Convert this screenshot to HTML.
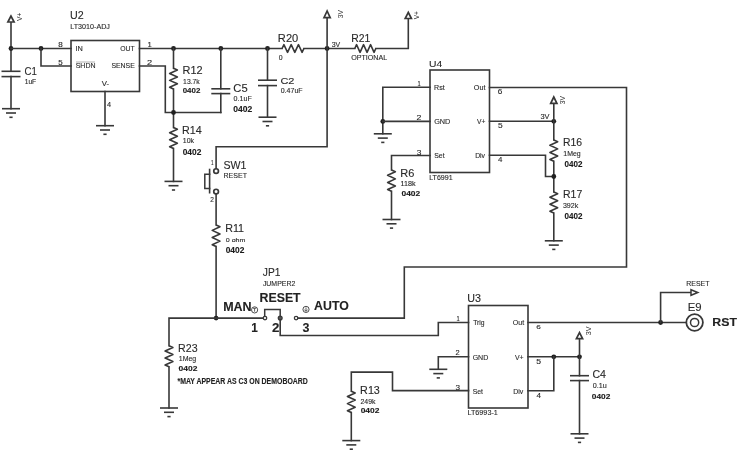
<!DOCTYPE html>
<html><head><meta charset="utf-8"><style>
html,body{margin:0;padding:0;background:#fff;}
svg{display:block;}
text{font-family:"Liberation Sans",sans-serif;}
</style></head><body>
<svg width="743" height="450" viewBox="0 0 743 450" style="will-change:transform">
<rect width="743" height="450" fill="#fff"/>
<polygon points="11.00,16.00 7.90,22.00 14.10,22.00" fill="#fff" stroke="#383838" stroke-width="1.7" stroke-linejoin="miter"/>
<text transform="translate(22.00 21.03) rotate(-90)" x="0" y="0" font-size="7.27" textLength="8.36" lengthAdjust="spacingAndGlyphs" fill="#2a2a2a">V+</text>
<polyline points="11.00,22.70 11.00,71.30" fill="none" stroke="#383838" stroke-width="1.60" stroke-linejoin="miter" stroke-linecap="square"/>
<line x1="1.50" y1="71.30" x2="20.50" y2="71.30" stroke="#383838" stroke-width="1.60" stroke-linecap="butt"/>
<line x1="1.50" y1="76.60" x2="20.50" y2="76.60" stroke="#383838" stroke-width="1.60" stroke-linecap="butt"/>
<polyline points="11.00,76.60 11.00,108.70" fill="none" stroke="#383838" stroke-width="1.60" stroke-linejoin="miter" stroke-linecap="square"/>
<line x1="2.00" y1="108.70" x2="20.00" y2="108.70" stroke="#383838" stroke-width="1.60" stroke-linecap="butt"/>
<line x1="6.00" y1="113.00" x2="16.00" y2="113.00" stroke="#383838" stroke-width="1.60" stroke-linecap="butt"/>
<line x1="9.40" y1="117.30" x2="12.60" y2="117.30" stroke="#383838" stroke-width="1.60" stroke-linecap="butt"/>
<circle cx="11.00" cy="48.50" r="2.40" fill="#202020"/>
<polyline points="11.00,48.50 71.00,48.50" fill="none" stroke="#383838" stroke-width="1.60" stroke-linejoin="miter" stroke-linecap="square"/>
<circle cx="41.00" cy="48.50" r="2.40" fill="#202020"/>
<polyline points="41.00,48.50 41.00,66.00 71.00,66.00" fill="none" stroke="#383838" stroke-width="1.60" stroke-linejoin="miter" stroke-linecap="square"/>
<text x="24.61" y="74.89" font-size="11.44" textLength="12.36" lengthAdjust="spacingAndGlyphs" fill="#2a2a2a" stroke="#2a2a2a" stroke-width="0.12">C1</text>
<text x="24.69" y="83.84" font-size="6.59" textLength="11.47" lengthAdjust="spacingAndGlyphs" fill="#2a2a2a" stroke="#2a2a2a" stroke-width="0.12">1uF</text>
<rect x="71.00" y="40.50" width="68.50" height="51.00" fill="none" stroke="#383838" stroke-width="1.60"/>
<text x="70.08" y="18.99" font-size="10.88" textLength="13.66" lengthAdjust="spacingAndGlyphs" fill="#2a2a2a" stroke="#2a2a2a" stroke-width="0.12">U2</text>
<text x="70.32" y="28.83" font-size="7.20" textLength="39.60" lengthAdjust="spacingAndGlyphs" fill="#2a2a2a" stroke="#2a2a2a" stroke-width="0.12">LT3010-ADJ</text>
<text x="58.35" y="46.94" font-size="6.36" textLength="4.50" lengthAdjust="spacingAndGlyphs" fill="#2a2a2a" stroke="#2a2a2a" stroke-width="0.12">8</text>
<text x="58.38" y="64.63" font-size="7.17" textLength="4.46" lengthAdjust="spacingAndGlyphs" fill="#2a2a2a" stroke="#2a2a2a" stroke-width="0.12">5</text>
<text x="75.42" y="50.90" font-size="7.12" textLength="7.38" lengthAdjust="spacingAndGlyphs" fill="#2a2a2a" stroke="#2a2a2a" stroke-width="0.12">IN</text>
<text x="120.18" y="51.13" font-size="7.63" textLength="14.48" lengthAdjust="spacingAndGlyphs" fill="#2a2a2a" stroke="#2a2a2a" stroke-width="0.12">OUT</text>
<line x1="76.00" y1="62.00" x2="95.00" y2="62.00" stroke="#d4d4d4" stroke-width="1.80" stroke-linecap="butt"/>
<text x="75.68" y="68.23" font-size="6.92" textLength="19.89" lengthAdjust="spacingAndGlyphs" fill="#2a2a2a" stroke="#2a2a2a" stroke-width="0.12">SHDN</text>
<text x="111.39" y="68.23" font-size="7.49" textLength="23.41" lengthAdjust="spacingAndGlyphs" fill="#2a2a2a" stroke="#2a2a2a" stroke-width="0.12">SENSE</text>
<text x="101.67" y="85.80" font-size="7.27" textLength="7.36" lengthAdjust="spacingAndGlyphs" fill="#2a2a2a" stroke="#2a2a2a" stroke-width="0.12">V-</text>
<text x="147.42" y="47.00" font-size="6.54" textLength="4.26" lengthAdjust="spacingAndGlyphs" fill="#2a2a2a" stroke="#2a2a2a" stroke-width="0.12">1</text>
<text x="147.04" y="64.70" font-size="7.16" textLength="5.13" lengthAdjust="spacingAndGlyphs" fill="#2a2a2a" stroke="#2a2a2a" stroke-width="0.12">2</text>
<polyline points="105.00,91.50 105.00,125.70" fill="none" stroke="#383838" stroke-width="1.60" stroke-linejoin="miter" stroke-linecap="square"/>
<text x="107.03" y="106.80" font-size="7.12" textLength="4.08" lengthAdjust="spacingAndGlyphs" fill="#2a2a2a" stroke="#2a2a2a" stroke-width="0.12">4</text>
<line x1="96.00" y1="125.70" x2="114.00" y2="125.70" stroke="#383838" stroke-width="1.60" stroke-linecap="butt"/>
<line x1="100.00" y1="130.00" x2="110.00" y2="130.00" stroke="#383838" stroke-width="1.60" stroke-linecap="butt"/>
<line x1="103.40" y1="134.30" x2="106.60" y2="134.30" stroke="#383838" stroke-width="1.60" stroke-linecap="butt"/>
<polyline points="139.50,48.50 282.10,48.50" fill="none" stroke="#383838" stroke-width="1.60" stroke-linejoin="miter" stroke-linecap="square"/>
<polyline points="282.10,48.50 283.92,44.70 287.55,52.30 291.18,44.70 294.82,52.30 298.45,44.70 302.08,52.30 303.90,48.50" fill="none" stroke="#383838" stroke-width="1.60" stroke-linejoin="round"/>
<polyline points="303.90,48.50 354.80,48.50" fill="none" stroke="#383838" stroke-width="1.60" stroke-linejoin="miter" stroke-linecap="square"/>
<polyline points="354.80,48.50 356.55,44.70 360.05,52.30 363.55,44.70 367.05,52.30 370.55,44.70 374.05,52.30 375.80,48.50" fill="none" stroke="#383838" stroke-width="1.60" stroke-linejoin="round"/>
<polyline points="375.80,48.50 408.30,48.50 408.30,19.20" fill="none" stroke="#383838" stroke-width="1.60" stroke-linejoin="miter" stroke-linecap="square"/>
<polygon points="408.30,12.40 405.20,18.50 411.40,18.50" fill="#fff" stroke="#383838" stroke-width="1.7" stroke-linejoin="miter"/>
<text transform="translate(419.00 19.33) rotate(-90)" x="0" y="0" font-size="6.83" textLength="8.15" lengthAdjust="spacingAndGlyphs" fill="#2a2a2a">V+</text>
<text x="277.89" y="41.60" font-size="10.03" textLength="20.34" lengthAdjust="spacingAndGlyphs" fill="#2a2a2a" stroke="#2a2a2a" stroke-width="0.12">R20</text>
<text x="278.73" y="59.84" font-size="6.64" textLength="3.84" lengthAdjust="spacingAndGlyphs" fill="#2a2a2a" stroke="#2a2a2a" stroke-width="0.12">0</text>
<text x="351.15" y="41.70" font-size="10.17" textLength="19.06" lengthAdjust="spacingAndGlyphs" fill="#2a2a2a" stroke="#2a2a2a" stroke-width="0.12">R21</text>
<text x="351.16" y="60.03" font-size="6.78" textLength="36.07" lengthAdjust="spacingAndGlyphs" fill="#2a2a2a" stroke="#2a2a2a" stroke-width="0.12">OPTIONAL</text>
<text x="331.74" y="46.53" font-size="7.34" textLength="8.50" lengthAdjust="spacingAndGlyphs" fill="#2a2a2a" stroke="#2a2a2a" stroke-width="0.12">3V</text>
<polyline points="139.50,66.00 165.30,66.00 165.30,112.50 220.80,112.50" fill="none" stroke="#383838" stroke-width="1.60" stroke-linejoin="miter" stroke-linecap="square"/>
<circle cx="173.50" cy="48.50" r="2.40" fill="#202020"/>
<polyline points="173.50,48.50 173.50,68.30" fill="none" stroke="#383838" stroke-width="1.60" stroke-linejoin="miter" stroke-linecap="square"/>
<polyline points="173.50,68.30 177.40,70.02 169.60,73.47 177.40,76.92 169.60,80.38 177.40,83.83 169.60,87.28 173.50,89.00" fill="none" stroke="#383838" stroke-width="1.60" stroke-linejoin="round"/>
<polyline points="173.50,89.00 173.50,127.50" fill="none" stroke="#383838" stroke-width="1.60" stroke-linejoin="miter" stroke-linecap="square"/>
<circle cx="173.50" cy="112.50" r="2.40" fill="#202020"/>
<text x="182.50" y="73.80" font-size="10.03" textLength="20.05" lengthAdjust="spacingAndGlyphs" fill="#2a2a2a" stroke="#2a2a2a" stroke-width="0.12">R12</text>
<text x="183.08" y="83.73" font-size="7.35" textLength="16.71" lengthAdjust="spacingAndGlyphs" fill="#2a2a2a" stroke="#2a2a2a" stroke-width="0.12">13.7k</text>
<text x="182.69" y="93.13" font-size="7.63" textLength="17.63" lengthAdjust="spacingAndGlyphs" fill="#1a1a1a" stroke="#1a1a1a" stroke-width="0.12" font-weight="bold">0402</text>
<polyline points="173.50,127.50 177.40,129.25 169.60,132.75 177.40,136.25 169.60,139.75 177.40,143.25 169.60,146.75 173.50,148.50" fill="none" stroke="#383838" stroke-width="1.60" stroke-linejoin="round"/>
<polyline points="173.50,148.50 173.50,181.40" fill="none" stroke="#383838" stroke-width="1.60" stroke-linejoin="miter" stroke-linecap="square"/>
<line x1="164.50" y1="181.40" x2="182.50" y2="181.40" stroke="#383838" stroke-width="1.60" stroke-linecap="butt"/>
<line x1="168.50" y1="185.70" x2="178.50" y2="185.70" stroke="#383838" stroke-width="1.60" stroke-linecap="butt"/>
<line x1="171.90" y1="190.00" x2="175.10" y2="190.00" stroke="#383838" stroke-width="1.60" stroke-linecap="butt"/>
<text x="182.12" y="134.00" font-size="11.19" textLength="19.70" lengthAdjust="spacingAndGlyphs" fill="#2a2a2a" stroke="#2a2a2a" stroke-width="0.12">R14</text>
<text x="182.77" y="143.23" font-size="6.81" textLength="11.22" lengthAdjust="spacingAndGlyphs" fill="#2a2a2a" stroke="#2a2a2a" stroke-width="0.12">10k</text>
<text x="182.67" y="154.91" font-size="8.76" textLength="18.67" lengthAdjust="spacingAndGlyphs" fill="#1a1a1a" stroke="#1a1a1a" stroke-width="0.12" font-weight="bold">0402</text>
<circle cx="220.80" cy="48.50" r="2.40" fill="#202020"/>
<polyline points="220.80,48.50 220.80,88.80" fill="none" stroke="#383838" stroke-width="1.60" stroke-linejoin="miter" stroke-linecap="square"/>
<line x1="211.30" y1="88.80" x2="230.30" y2="88.80" stroke="#383838" stroke-width="1.60" stroke-linecap="butt"/>
<line x1="211.30" y1="93.60" x2="230.30" y2="93.60" stroke="#383838" stroke-width="1.60" stroke-linecap="butt"/>
<polyline points="220.80,93.60 220.80,112.50" fill="none" stroke="#383838" stroke-width="1.60" stroke-linejoin="miter" stroke-linecap="square"/>
<text x="233.33" y="91.80" font-size="10.59" textLength="14.34" lengthAdjust="spacingAndGlyphs" fill="#2a2a2a" stroke="#2a2a2a" stroke-width="0.12">C5</text>
<text x="233.62" y="101.23" font-size="7.20" textLength="18.16" lengthAdjust="spacingAndGlyphs" fill="#2a2a2a" stroke="#2a2a2a" stroke-width="0.12">0.1uF</text>
<text x="233.26" y="111.72" font-size="8.33" textLength="18.98" lengthAdjust="spacingAndGlyphs" fill="#1a1a1a" stroke="#1a1a1a" stroke-width="0.12" font-weight="bold">0402</text>
<circle cx="267.50" cy="48.50" r="2.40" fill="#202020"/>
<polyline points="267.50,48.50 267.50,80.20" fill="none" stroke="#383838" stroke-width="1.60" stroke-linejoin="miter" stroke-linecap="square"/>
<line x1="258.00" y1="80.20" x2="277.00" y2="80.20" stroke="#383838" stroke-width="1.60" stroke-linecap="butt"/>
<line x1="258.00" y1="85.60" x2="277.00" y2="85.60" stroke="#383838" stroke-width="1.60" stroke-linecap="butt"/>
<polyline points="267.50,85.60 267.50,117.20" fill="none" stroke="#383838" stroke-width="1.60" stroke-linejoin="miter" stroke-linecap="square"/>
<line x1="258.50" y1="117.20" x2="276.50" y2="117.20" stroke="#383838" stroke-width="1.60" stroke-linecap="butt"/>
<line x1="262.50" y1="121.50" x2="272.50" y2="121.50" stroke="#383838" stroke-width="1.60" stroke-linecap="butt"/>
<line x1="265.90" y1="125.80" x2="269.10" y2="125.80" stroke="#383838" stroke-width="1.60" stroke-linecap="butt"/>
<text x="280.44" y="83.51" font-size="9.60" textLength="14.01" lengthAdjust="spacingAndGlyphs" fill="#2a2a2a" stroke="#2a2a2a" stroke-width="0.12">C2</text>
<text x="280.73" y="92.93" font-size="6.92" textLength="21.86" lengthAdjust="spacingAndGlyphs" fill="#2a2a2a" stroke="#2a2a2a" stroke-width="0.12">0.47uF</text>
<polygon points="327.10,11.00 324.00,17.70 330.20,17.70" fill="#fff" stroke="#383838" stroke-width="1.7" stroke-linejoin="miter"/>
<text transform="translate(342.92 18.26) rotate(-90)" x="0" y="0" font-size="7.77" textLength="8.29" lengthAdjust="spacingAndGlyphs" fill="#2a2a2a">3V</text>
<circle cx="327.10" cy="48.50" r="2.40" fill="#202020"/>
<polyline points="327.10,18.30 327.10,146.80 216.10,146.80 216.10,168.70" fill="none" stroke="#383838" stroke-width="1.60" stroke-linejoin="miter" stroke-linecap="square"/>
<circle cx="216.1" cy="171.1" r="2.35" fill="#fff" stroke="#383838" stroke-width="1.7"/>
<circle cx="216.1" cy="191.6" r="2.35" fill="#fff" stroke="#383838" stroke-width="1.7"/>
<line x1="209.60" y1="168.70" x2="209.60" y2="193.50" stroke="#383838" stroke-width="1.60" stroke-linecap="butt"/>
<polyline points="209.60,174.20 204.80,174.20 204.80,188.40 209.60,188.40" fill="none" stroke="#383838" stroke-width="1.50" stroke-linejoin="miter" stroke-linecap="square"/>
<text x="210.95" y="165.30" font-size="6.69" textLength="2.58" lengthAdjust="spacingAndGlyphs" fill="#2a2a2a" stroke="#2a2a2a" stroke-width="0.12">1</text>
<text x="210.37" y="202.00" font-size="6.73" textLength="3.66" lengthAdjust="spacingAndGlyphs" fill="#2a2a2a" stroke="#2a2a2a" stroke-width="0.12">2</text>
<text x="223.52" y="168.70" font-size="10.59" textLength="23.00" lengthAdjust="spacingAndGlyphs" fill="#2a2a2a" stroke="#2a2a2a" stroke-width="0.12">SW1</text>
<text x="223.42" y="178.22" font-size="7.77" textLength="23.54" lengthAdjust="spacingAndGlyphs" fill="#2a2a2a" stroke="#2a2a2a" stroke-width="0.12">RESET</text>
<polyline points="216.10,194.00 216.10,225.00" fill="none" stroke="#383838" stroke-width="1.60" stroke-linejoin="miter" stroke-linecap="square"/>
<polyline points="216.10,225.00 220.00,226.79 212.20,230.38 220.00,233.96 212.20,237.54 220.00,241.12 212.20,244.71 216.10,246.50" fill="none" stroke="#383838" stroke-width="1.60" stroke-linejoin="round"/>
<polyline points="216.10,246.50 216.10,318.10" fill="none" stroke="#383838" stroke-width="1.60" stroke-linejoin="miter" stroke-linecap="square"/>
<text x="225.16" y="231.80" font-size="10.47" textLength="18.84" lengthAdjust="spacingAndGlyphs" fill="#2a2a2a" stroke="#2a2a2a" stroke-width="0.12">R11</text>
<text x="225.72" y="241.84" font-size="6.26" textLength="19.75" lengthAdjust="spacingAndGlyphs" fill="#2a2a2a" stroke="#2a2a2a" stroke-width="0.12">0 ohm</text>
<text x="225.67" y="252.72" font-size="8.33" textLength="18.67" lengthAdjust="spacingAndGlyphs" fill="#1a1a1a" stroke="#1a1a1a" stroke-width="0.12" font-weight="bold">0402</text>
<circle cx="216.10" cy="318.10" r="2.40" fill="#202020"/>
<polyline points="169.00,345.80 169.00,318.10 262.90,318.10" fill="none" stroke="#383838" stroke-width="1.60" stroke-linejoin="miter" stroke-linecap="square"/>
<polyline points="169.00,345.80 172.90,347.55 165.10,351.05 172.90,354.55 165.10,358.05 172.90,361.55 165.10,365.05 169.00,366.80" fill="none" stroke="#383838" stroke-width="1.60" stroke-linejoin="round"/>
<polyline points="169.00,366.80 169.00,408.00" fill="none" stroke="#383838" stroke-width="1.60" stroke-linejoin="miter" stroke-linecap="square"/>
<line x1="160.00" y1="408.00" x2="178.00" y2="408.00" stroke="#383838" stroke-width="1.60" stroke-linecap="butt"/>
<line x1="164.00" y1="412.30" x2="174.00" y2="412.30" stroke="#383838" stroke-width="1.60" stroke-linecap="butt"/>
<line x1="167.40" y1="416.60" x2="170.60" y2="416.60" stroke="#383838" stroke-width="1.60" stroke-linecap="butt"/>
<text x="178.03" y="351.70" font-size="10.73" textLength="19.54" lengthAdjust="spacingAndGlyphs" fill="#2a2a2a" stroke="#2a2a2a" stroke-width="0.12">R23</text>
<text x="178.77" y="360.96" font-size="6.92" textLength="17.48" lengthAdjust="spacingAndGlyphs" fill="#2a2a2a" stroke="#2a2a2a" stroke-width="0.12">1Meg</text>
<text x="178.56" y="370.93" font-size="7.63" textLength="18.88" lengthAdjust="spacingAndGlyphs" fill="#1a1a1a" stroke="#1a1a1a" stroke-width="0.12" font-weight="bold">0402</text>
<text x="177.48" y="383.71" font-size="8.18" textLength="130.31" lengthAdjust="spacingAndGlyphs" fill="#222" stroke="#222" stroke-width="0.12" font-weight="bold">*MAY APPEAR AS C3 ON DEMOBOARD</text>
<circle cx="265" cy="318.1" r="1.75" fill="#fff" stroke="#383838" stroke-width="1.3"/>
<circle cx="280.2" cy="318.1" r="1.9" fill="#555" stroke="#383838" stroke-width="1.3"/>
<circle cx="296.1" cy="318.1" r="1.75" fill="#fff" stroke="#383838" stroke-width="1.3"/>
<polyline points="264.70,316.30 264.70,309.50 280.20,309.50 280.20,316.30" fill="none" stroke="#383838" stroke-width="1.50" stroke-linejoin="miter" stroke-linecap="square"/>
<polyline points="280.20,320.00 280.20,335.50 438.30,335.50 438.30,322.50 468.50,322.50" fill="none" stroke="#383838" stroke-width="1.60" stroke-linejoin="miter" stroke-linecap="square"/>
<polyline points="297.90,318.10 404.30,318.10 404.30,267.00 626.50,267.00 626.50,87.50 489.50,87.50" fill="none" stroke="#383838" stroke-width="1.60" stroke-linejoin="miter" stroke-linecap="square"/>
<text x="262.84" y="275.90" font-size="10.46" textLength="17.66" lengthAdjust="spacingAndGlyphs" fill="#2a2a2a" stroke="#2a2a2a" stroke-width="0.12">JP1</text>
<text x="262.89" y="285.93" font-size="7.34" textLength="32.46" lengthAdjust="spacingAndGlyphs" fill="#2a2a2a" stroke="#2a2a2a" stroke-width="0.12">JUMPER2</text>
<text x="259.58" y="301.67" font-size="12.99" textLength="41.06" lengthAdjust="spacingAndGlyphs" fill="#222" stroke="#222" stroke-width="0.12" font-weight="bold">RESET</text>
<text x="223.16" y="310.50" font-size="12.94" textLength="28.48" lengthAdjust="spacingAndGlyphs" fill="#222" stroke="#222" stroke-width="0.12" font-weight="bold">MAN</text>
<text x="314.09" y="310.38" font-size="12.57" textLength="34.72" lengthAdjust="spacingAndGlyphs" fill="#222" stroke="#222" stroke-width="0.12" font-weight="bold">AUTO</text>
<text x="251.16" y="331.80" font-size="12.35" textLength="6.57" lengthAdjust="spacingAndGlyphs" fill="#222" stroke="#222" stroke-width="0.12" font-weight="bold">1</text>
<text x="272.14" y="331.80" font-size="12.17" textLength="7.39" lengthAdjust="spacingAndGlyphs" fill="#222" stroke="#222" stroke-width="0.12" font-weight="bold">2</text>
<text x="302.51" y="331.67" font-size="11.98" textLength="6.94" lengthAdjust="spacingAndGlyphs" fill="#222" stroke="#222" stroke-width="0.12" font-weight="bold">3</text>
<circle cx="254.6" cy="309.9" r="3.1" fill="none" stroke="#3a3a3a" stroke-width="0.9"/>
<line x1="253.00" y1="308.30" x2="256.20" y2="308.30" stroke="#3a3a3a" stroke-width="0.80" stroke-linecap="butt"/>
<line x1="254.60" y1="308.30" x2="254.60" y2="311.70" stroke="#3a3a3a" stroke-width="0.80" stroke-linecap="butt"/>
<circle cx="306" cy="309.4" r="3.1" fill="none" stroke="#3a3a3a" stroke-width="0.9"/>
<line x1="306.00" y1="307.40" x2="306.00" y2="311.20" stroke="#3a3a3a" stroke-width="0.80" stroke-linecap="butt"/>
<polyline points="304.60,309.90 306.00,311.30 307.40,309.90" fill="none" stroke="#3a3a3a" stroke-width="0.80" stroke-linejoin="miter" stroke-linecap="square"/>
<rect x="430.00" y="70.00" width="59.50" height="102.50" fill="none" stroke="#383838" stroke-width="1.60"/>
<text x="429.00" y="67.30" font-size="9.75" textLength="13.20" lengthAdjust="spacingAndGlyphs" fill="#2a2a2a" stroke="#2a2a2a" stroke-width="0.12">U4</text>
<text x="429.23" y="180.13" font-size="7.34" textLength="23.40" lengthAdjust="spacingAndGlyphs" fill="#2a2a2a" stroke="#2a2a2a" stroke-width="0.12">LT6991</text>
<polyline points="430.00,87.20 382.80,87.20 382.80,133.80" fill="none" stroke="#383838" stroke-width="1.60" stroke-linejoin="miter" stroke-linecap="square"/>
<circle cx="382.80" cy="121.40" r="2.40" fill="#202020"/>
<polyline points="382.80,121.40 430.00,121.40" fill="none" stroke="#383838" stroke-width="1.60" stroke-linejoin="miter" stroke-linecap="square"/>
<line x1="373.80" y1="133.80" x2="391.80" y2="133.80" stroke="#383838" stroke-width="1.60" stroke-linecap="butt"/>
<line x1="377.80" y1="138.10" x2="387.80" y2="138.10" stroke="#383838" stroke-width="1.60" stroke-linecap="butt"/>
<line x1="381.20" y1="142.40" x2="384.40" y2="142.40" stroke="#383838" stroke-width="1.60" stroke-linecap="butt"/>
<polyline points="430.00,155.50 391.50,155.50 391.50,170.00" fill="none" stroke="#383838" stroke-width="1.60" stroke-linejoin="miter" stroke-linecap="square"/>
<polyline points="391.50,170.00 395.40,171.78 387.60,175.32 395.40,178.88 387.60,182.43 395.40,185.98 387.60,189.53 391.50,191.30" fill="none" stroke="#383838" stroke-width="1.60" stroke-linejoin="round"/>
<polyline points="391.50,191.30 391.50,219.50" fill="none" stroke="#383838" stroke-width="1.60" stroke-linejoin="miter" stroke-linecap="square"/>
<line x1="382.50" y1="219.50" x2="400.50" y2="219.50" stroke="#383838" stroke-width="1.60" stroke-linecap="butt"/>
<line x1="386.50" y1="223.80" x2="396.50" y2="223.80" stroke="#383838" stroke-width="1.60" stroke-linecap="butt"/>
<line x1="389.90" y1="228.10" x2="393.10" y2="228.10" stroke="#383838" stroke-width="1.60" stroke-linecap="butt"/>
<text x="400.30" y="176.70" font-size="10.45" textLength="14.09" lengthAdjust="spacingAndGlyphs" fill="#2a2a2a" stroke="#2a2a2a" stroke-width="0.12">R6</text>
<text x="400.47" y="185.93" font-size="6.81" textLength="15.02" lengthAdjust="spacingAndGlyphs" fill="#2a2a2a" stroke="#2a2a2a" stroke-width="0.12">118k</text>
<text x="401.47" y="196.22" font-size="7.77" textLength="18.67" lengthAdjust="spacingAndGlyphs" fill="#1a1a1a" stroke="#1a1a1a" stroke-width="0.12" font-weight="bold">0402</text>
<text x="417.56" y="85.60" font-size="6.98" textLength="3.22" lengthAdjust="spacingAndGlyphs" fill="#2a2a2a" stroke="#2a2a2a" stroke-width="0.12">1</text>
<text x="416.56" y="120.20" font-size="7.45" textLength="4.88" lengthAdjust="spacingAndGlyphs" fill="#2a2a2a" stroke="#2a2a2a" stroke-width="0.12">2</text>
<text x="416.68" y="154.53" font-size="7.49" textLength="4.69" lengthAdjust="spacingAndGlyphs" fill="#2a2a2a" stroke="#2a2a2a" stroke-width="0.12">3</text>
<text x="434.02" y="89.83" font-size="7.31" textLength="10.63" lengthAdjust="spacingAndGlyphs" fill="#2a2a2a" stroke="#2a2a2a" stroke-width="0.12">Rst</text>
<text x="434.13" y="123.92" font-size="7.77" textLength="16.22" lengthAdjust="spacingAndGlyphs" fill="#2a2a2a" stroke="#2a2a2a" stroke-width="0.12">GND</text>
<text x="434.19" y="158.12" font-size="7.77" textLength="10.36" lengthAdjust="spacingAndGlyphs" fill="#2a2a2a" stroke="#2a2a2a" stroke-width="0.12">Set</text>
<text x="473.86" y="89.83" font-size="7.20" textLength="11.59" lengthAdjust="spacingAndGlyphs" fill="#2a2a2a" stroke="#2a2a2a" stroke-width="0.12">Out</text>
<text x="476.97" y="124.00" font-size="7.70" textLength="8.36" lengthAdjust="spacingAndGlyphs" fill="#2a2a2a" stroke="#2a2a2a" stroke-width="0.12">V+</text>
<text x="475.14" y="158.20" font-size="7.59" textLength="9.88" lengthAdjust="spacingAndGlyphs" fill="#2a2a2a" stroke="#2a2a2a" stroke-width="0.12">Div</text>
<text x="497.68" y="93.63" font-size="6.92" textLength="4.58" lengthAdjust="spacingAndGlyphs" fill="#2a2a2a" stroke="#2a2a2a" stroke-width="0.12">6</text>
<text x="497.96" y="127.83" font-size="7.60" textLength="4.69" lengthAdjust="spacingAndGlyphs" fill="#2a2a2a" stroke="#2a2a2a" stroke-width="0.12">5</text>
<text x="498.12" y="162.40" font-size="7.85" textLength="4.41" lengthAdjust="spacingAndGlyphs" fill="#2a2a2a" stroke="#2a2a2a" stroke-width="0.12">4</text>
<polyline points="489.50,121.30 553.80,121.30" fill="none" stroke="#383838" stroke-width="1.60" stroke-linejoin="miter" stroke-linecap="square"/>
<circle cx="553.80" cy="121.30" r="2.40" fill="#202020"/>
<polygon points="553.80,97.00 550.70,103.30 556.90,103.30" fill="#fff" stroke="#383838" stroke-width="1.7" stroke-linejoin="miter"/>
<text transform="translate(565.13 104.26) rotate(-90)" x="0" y="0" font-size="7.34" textLength="8.29" lengthAdjust="spacingAndGlyphs" fill="#2a2a2a">3V</text>
<text x="540.52" y="119.44" font-size="6.36" textLength="9.01" lengthAdjust="spacingAndGlyphs" fill="#2a2a2a" stroke="#2a2a2a" stroke-width="0.12">3V</text>
<polyline points="553.80,104.00 553.80,140.00" fill="none" stroke="#383838" stroke-width="1.60" stroke-linejoin="miter" stroke-linecap="square"/>
<polyline points="553.80,140.00 557.70,141.78 549.90,145.32 557.70,148.88 549.90,152.43 557.70,155.98 549.90,159.53 553.80,161.30" fill="none" stroke="#383838" stroke-width="1.60" stroke-linejoin="round"/>
<polyline points="553.80,161.30 553.80,192.00" fill="none" stroke="#383838" stroke-width="1.60" stroke-linejoin="miter" stroke-linecap="square"/>
<polyline points="489.50,155.20 545.50,155.20 545.50,176.50 553.80,176.50" fill="none" stroke="#383838" stroke-width="1.60" stroke-linejoin="miter" stroke-linecap="square"/>
<circle cx="553.80" cy="176.50" r="2.40" fill="#202020"/>
<polyline points="553.80,192.00 557.70,193.75 549.90,197.25 557.70,200.75 549.90,204.25 557.70,207.75 549.90,211.25 553.80,213.00" fill="none" stroke="#383838" stroke-width="1.60" stroke-linejoin="round"/>
<polyline points="553.80,213.00 553.80,240.80" fill="none" stroke="#383838" stroke-width="1.60" stroke-linejoin="miter" stroke-linecap="square"/>
<line x1="544.80" y1="240.80" x2="562.80" y2="240.80" stroke="#383838" stroke-width="1.60" stroke-linecap="butt"/>
<line x1="548.80" y1="245.10" x2="558.80" y2="245.10" stroke="#383838" stroke-width="1.60" stroke-linecap="butt"/>
<line x1="552.20" y1="249.40" x2="555.40" y2="249.40" stroke="#383838" stroke-width="1.60" stroke-linecap="butt"/>
<text x="563.05" y="146.40" font-size="10.17" textLength="19.11" lengthAdjust="spacingAndGlyphs" fill="#2a2a2a" stroke="#2a2a2a" stroke-width="0.12">R16</text>
<text x="563.37" y="155.74" font-size="7.04" textLength="17.38" lengthAdjust="spacingAndGlyphs" fill="#2a2a2a" stroke="#2a2a2a" stroke-width="0.12">1Meg</text>
<text x="564.48" y="166.82" font-size="8.19" textLength="17.94" lengthAdjust="spacingAndGlyphs" fill="#1a1a1a" stroke="#1a1a1a" stroke-width="0.12" font-weight="bold">0402</text>
<text x="563.04" y="197.90" font-size="10.32" textLength="19.18" lengthAdjust="spacingAndGlyphs" fill="#2a2a2a" stroke="#2a2a2a" stroke-width="0.12">R17</text>
<text x="562.93" y="208.02" font-size="7.90" textLength="15.36" lengthAdjust="spacingAndGlyphs" fill="#2a2a2a" stroke="#2a2a2a" stroke-width="0.12">392k</text>
<text x="564.48" y="218.72" font-size="8.19" textLength="17.94" lengthAdjust="spacingAndGlyphs" fill="#1a1a1a" stroke="#1a1a1a" stroke-width="0.12" font-weight="bold">0402</text>
<rect x="468.50" y="305.50" width="59.50" height="102.50" fill="none" stroke="#383838" stroke-width="1.60"/>
<text x="467.37" y="302.40" font-size="10.17" textLength="13.70" lengthAdjust="spacingAndGlyphs" fill="#2a2a2a" stroke="#2a2a2a" stroke-width="0.12">U3</text>
<text x="467.42" y="415.23" font-size="7.20" textLength="30.43" lengthAdjust="spacingAndGlyphs" fill="#2a2a2a" stroke="#2a2a2a" stroke-width="0.12">LT6993-1</text>
<text x="456.46" y="320.80" font-size="6.54" textLength="3.22" lengthAdjust="spacingAndGlyphs" fill="#2a2a2a" stroke="#2a2a2a" stroke-width="0.12">1</text>
<text x="455.42" y="355.30" font-size="7.02" textLength="4.15" lengthAdjust="spacingAndGlyphs" fill="#2a2a2a" stroke="#2a2a2a" stroke-width="0.12">2</text>
<text x="455.49" y="389.73" font-size="7.63" textLength="4.57" lengthAdjust="spacingAndGlyphs" fill="#2a2a2a" stroke="#2a2a2a" stroke-width="0.12">3</text>
<text x="473.25" y="325.09" font-size="7.30" textLength="11.37" lengthAdjust="spacingAndGlyphs" fill="#2a2a2a" stroke="#2a2a2a" stroke-width="0.12">Trig</text>
<text x="472.64" y="359.63" font-size="7.49" textLength="15.69" lengthAdjust="spacingAndGlyphs" fill="#2a2a2a" stroke="#2a2a2a" stroke-width="0.12">GND</text>
<text x="472.69" y="393.53" font-size="7.63" textLength="10.36" lengthAdjust="spacingAndGlyphs" fill="#2a2a2a" stroke="#2a2a2a" stroke-width="0.12">Set</text>
<text x="512.77" y="324.93" font-size="7.06" textLength="11.39" lengthAdjust="spacingAndGlyphs" fill="#2a2a2a" stroke="#2a2a2a" stroke-width="0.12">Out</text>
<text x="514.97" y="359.70" font-size="7.70" textLength="8.67" lengthAdjust="spacingAndGlyphs" fill="#2a2a2a" stroke="#2a2a2a" stroke-width="0.12">V+</text>
<text x="513.23" y="393.60" font-size="7.45" textLength="10.10" lengthAdjust="spacingAndGlyphs" fill="#2a2a2a" stroke="#2a2a2a" stroke-width="0.12">Div</text>
<text x="536.38" y="328.54" font-size="6.21" textLength="4.58" lengthAdjust="spacingAndGlyphs" fill="#2a2a2a" stroke="#2a2a2a" stroke-width="0.12">6</text>
<text x="536.35" y="363.53" font-size="7.45" textLength="4.81" lengthAdjust="spacingAndGlyphs" fill="#2a2a2a" stroke="#2a2a2a" stroke-width="0.12">5</text>
<text x="536.51" y="397.50" font-size="7.12" textLength="4.53" lengthAdjust="spacingAndGlyphs" fill="#2a2a2a" stroke="#2a2a2a" stroke-width="0.12">4</text>
<polyline points="468.50,356.80 438.30,356.80 438.30,369.30" fill="none" stroke="#383838" stroke-width="1.60" stroke-linejoin="miter" stroke-linecap="square"/>
<line x1="429.30" y1="369.30" x2="447.30" y2="369.30" stroke="#383838" stroke-width="1.60" stroke-linecap="butt"/>
<line x1="433.30" y1="373.60" x2="443.30" y2="373.60" stroke="#383838" stroke-width="1.60" stroke-linecap="butt"/>
<line x1="436.70" y1="377.90" x2="439.90" y2="377.90" stroke="#383838" stroke-width="1.60" stroke-linecap="butt"/>
<polyline points="468.50,390.60 392.50,390.60 392.50,372.10 351.30,372.10 351.30,391.20" fill="none" stroke="#383838" stroke-width="1.60" stroke-linejoin="miter" stroke-linecap="square"/>
<polyline points="351.30,391.20 355.20,392.97 347.40,396.52 355.20,400.07 347.40,403.62 355.20,407.18 347.40,410.73 351.30,412.50" fill="none" stroke="#383838" stroke-width="1.60" stroke-linejoin="round"/>
<polyline points="351.30,412.50 351.30,440.60" fill="none" stroke="#383838" stroke-width="1.60" stroke-linejoin="miter" stroke-linecap="square"/>
<line x1="342.30" y1="440.60" x2="360.30" y2="440.60" stroke="#383838" stroke-width="1.60" stroke-linecap="butt"/>
<line x1="346.30" y1="444.90" x2="356.30" y2="444.90" stroke="#383838" stroke-width="1.60" stroke-linecap="butt"/>
<line x1="349.70" y1="449.20" x2="352.90" y2="449.20" stroke="#383838" stroke-width="1.60" stroke-linecap="butt"/>
<text x="360.12" y="393.60" font-size="10.17" textLength="19.76" lengthAdjust="spacingAndGlyphs" fill="#2a2a2a" stroke="#2a2a2a" stroke-width="0.12">R13</text>
<text x="360.45" y="403.83" font-size="7.63" textLength="15.04" lengthAdjust="spacingAndGlyphs" fill="#2a2a2a" stroke="#2a2a2a" stroke-width="0.12">249k</text>
<text x="360.67" y="412.82" font-size="8.05" textLength="18.77" lengthAdjust="spacingAndGlyphs" fill="#1a1a1a" stroke="#1a1a1a" stroke-width="0.12" font-weight="bold">0402</text>
<polyline points="528.00,322.50 685.30,322.50" fill="none" stroke="#383838" stroke-width="1.60" stroke-linejoin="miter" stroke-linecap="square"/>
<circle cx="660.60" cy="322.50" r="2.40" fill="#202020"/>
<polyline points="660.60,322.50 660.60,292.50 690.50,292.50" fill="none" stroke="#383838" stroke-width="1.60" stroke-linejoin="miter" stroke-linecap="square"/>
<polygon points="691,289.7 697.8,292.5 691,295.3" fill="#fff" stroke="#383838" stroke-width="1.5"/>
<text x="686.23" y="286.33" font-size="7.20" textLength="23.23" lengthAdjust="spacingAndGlyphs" fill="#2a2a2a" stroke="#2a2a2a" stroke-width="0.12">RESET</text>
<text x="687.67" y="311.30" font-size="10.73" textLength="13.87" lengthAdjust="spacingAndGlyphs" fill="#2a2a2a" stroke="#2a2a2a" stroke-width="0.12">E9</text>
<circle cx="694.6" cy="322.5" r="8.3" fill="#fff" stroke="#383838" stroke-width="1.8"/>
<circle cx="694.6" cy="322.5" r="4.1" fill="#fff" stroke="#383838" stroke-width="1.5"/>
<text x="712.38" y="326.19" font-size="11.44" textLength="24.55" lengthAdjust="spacingAndGlyphs" fill="#222" stroke="#222" stroke-width="0.12" font-weight="bold">RST</text>
<polyline points="528.00,356.80 579.50,356.80" fill="none" stroke="#383838" stroke-width="1.60" stroke-linejoin="miter" stroke-linecap="square"/>
<circle cx="553.80" cy="356.80" r="2.40" fill="#202020"/>
<circle cx="579.50" cy="356.80" r="2.40" fill="#202020"/>
<polyline points="528.00,390.80 553.80,390.80 553.80,356.80" fill="none" stroke="#383838" stroke-width="1.60" stroke-linejoin="miter" stroke-linecap="square"/>
<polygon points="579.50,332.70 576.40,338.70 582.60,338.70" fill="#fff" stroke="#383838" stroke-width="1.7" stroke-linejoin="miter"/>
<text transform="translate(591.23 335.27) rotate(-90)" x="0" y="0" font-size="7.06" textLength="8.81" lengthAdjust="spacingAndGlyphs" fill="#2a2a2a">3V</text>
<polyline points="579.50,339.40 579.50,375.70" fill="none" stroke="#383838" stroke-width="1.60" stroke-linejoin="miter" stroke-linecap="square"/>
<line x1="570.00" y1="375.70" x2="589.00" y2="375.70" stroke="#383838" stroke-width="1.60" stroke-linecap="butt"/>
<line x1="570.00" y1="380.60" x2="589.00" y2="380.60" stroke="#383838" stroke-width="1.60" stroke-linecap="butt"/>
<polyline points="579.50,380.60 579.50,433.80" fill="none" stroke="#383838" stroke-width="1.60" stroke-linejoin="miter" stroke-linecap="square"/>
<line x1="570.50" y1="433.80" x2="588.50" y2="433.80" stroke="#383838" stroke-width="1.60" stroke-linecap="butt"/>
<line x1="574.50" y1="438.10" x2="584.50" y2="438.10" stroke="#383838" stroke-width="1.60" stroke-linecap="butt"/>
<line x1="577.90" y1="442.40" x2="581.10" y2="442.40" stroke="#383838" stroke-width="1.60" stroke-linecap="butt"/>
<text x="592.46" y="378.40" font-size="10.31" textLength="13.55" lengthAdjust="spacingAndGlyphs" fill="#2a2a2a" stroke="#2a2a2a" stroke-width="0.12">C4</text>
<text x="592.72" y="388.23" font-size="7.06" textLength="13.96" lengthAdjust="spacingAndGlyphs" fill="#2a2a2a" stroke="#2a2a2a" stroke-width="0.12">0.1u</text>
<text x="591.87" y="399.02" font-size="8.05" textLength="18.46" lengthAdjust="spacingAndGlyphs" fill="#1a1a1a" stroke="#1a1a1a" stroke-width="0.12" font-weight="bold">0402</text>
</svg></body></html>
